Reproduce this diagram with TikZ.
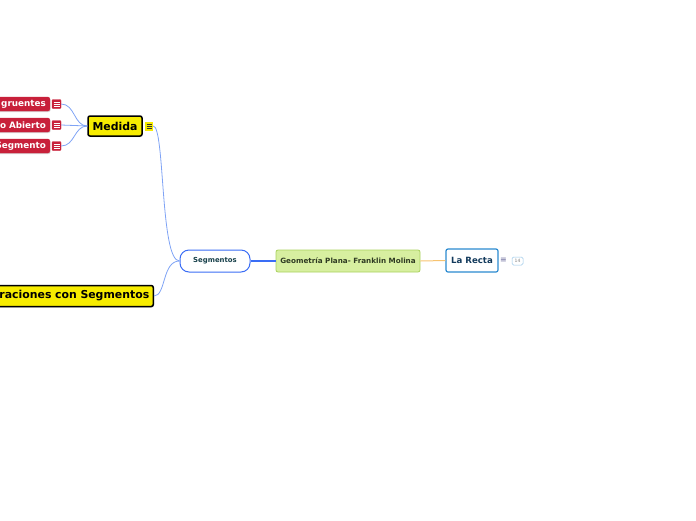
\documentclass[tikz,border=0pt]{standalone}
\usepackage{fontspec}
\setmainfont{DejaVu Sans}
\usetikzlibrary{shadows}
\definecolor{redb}{HTML}{C8203A}
\definecolor{yel}{HTML}{F7EC00}
\definecolor{conn}{HTML}{7FA3F5}
\definecolor{segb}{HTML}{3A6DF5}
\definecolor{segt}{HTML}{17404A}
\definecolor{geof}{HTML}{D7EFA0}
\definecolor{geob}{HTML}{A9D15E}
\definecolor{geot}{HTML}{2E3A22}
\definecolor{recb}{HTML}{2A8AD0}
\definecolor{rect}{HTML}{133A5C}
\definecolor{orl}{HTML}{F7C370}
\begin{document}
\begin{tikzpicture}[x=1pt,y=-1pt,
  shad/.style={drop shadow={shadow xshift=0.8pt,shadow yshift=-1pt,opacity=0.3}},
  redbox/.style={draw=redb,fill=redb,rounded corners=2pt,text=white,font=\bfseries\fontsize{8.8}{10}\selectfont,
     minimum height=14pt,inner xsep=4pt,inner ysep=0pt,text width=70pt,align=right,anchor=east,shad},
  redicon/.style={draw=redb,fill=redb,rounded corners=1pt,minimum width=9pt,minimum height=9pt,inner sep=0pt},
  yelbox/.style={draw=black,line width=1.5pt,fill=yel,rounded corners=2pt,font=\bfseries\fontsize{10.9}{12}\selectfont,inner xsep=4pt,inner ysep=0pt,shad},
  conn/.style={draw=conn,line width=0.8pt}
]
\useasboundingbox (0,0) rectangle (696,520);
\clip (0,0) rectangle (696,520);
% red nodes
\node[redbox] (c1) at (50,104) {gruentes};
\node[redbox] (c2) at (50,125) {o Abierto};
\node[redbox] (c3) at (50,146) {Segmento};
\foreach \n/\y in {1/104,2/125,3/146}{
  \node[redicon] (i\n) at (56.5,\y) {};
  \draw[white,line width=0.6pt] (53.5,\y-2) -- (59.5,\y-2) (53.5,\y) -- (59.5,\y) (53.5,\y+2) -- (59.5,\y+2);
}
% Medida
\node[yelbox,minimum width=54pt,minimum height=20pt] (med) at (115,126) {Medida};
\node[fill=yel,minimum width=8pt,minimum height=9pt,inner sep=0pt] (mi) at (149,126) {};
\draw[black!80,line width=0.6pt] (146.5,124) -- (151.5,124) (146.5,126) -- (151.5,126) (146.5,128) -- (151.5,128);
% Operaciones
\node[yelbox,minimum height=21pt,text width=170pt,align=right,anchor=east] (ope) at (154,296) {raciones con Segmentos};
% Segmentos
\node[draw=segb,line width=1pt,fill=white,rounded corners=9pt,minimum width=70pt,minimum height=22pt,
  text=segt,font=\bfseries\fontsize{6.9}{8}\selectfont] (seg) at (215,261) {Segmentos};
% Geometria
\node[draw=geob,line width=0.8pt,fill=geof,rounded corners=2pt,minimum width=144pt,minimum height=22pt,
  text=geot,font=\bfseries\fontsize{7.2}{8}\selectfont] (geo) at (348,261) {Geometría Plana- Franklin Molina};
% La Recta
\node[draw=recb,line width=1.2pt,fill=white,rounded corners=2pt,minimum width=52pt,minimum height=23pt,
  text=rect,font=\bfseries\fontsize{8.6}{10}\selectfont] (rec) at (472,260.5) {La Recta};
\node[text=gray!80!blue,font=\fontsize{8}{9}\selectfont,inner sep=0pt] (ri) at (503.5,260.5) {≡};
\node[draw=recb!50,line width=0.5pt,rounded corners=1.5pt,minimum width=11pt,minimum height=8pt,inner sep=0pt,
  text=gray,font=\fontsize{4.5}{5}\selectfont] (cnt) at (517.5,261) {14};
% connectors
\draw[conn] (i1.east) .. controls (75,104) and (74,126) .. (med.west);
\draw[conn] (i2.east) -- (med.west);
\draw[conn] (i3.east) .. controls (75,146) and (74,126) .. (med.west);
\draw[conn] (mi.east) .. controls (165,126) and (160,261) .. (seg.west);
\draw[conn] (ope.east) .. controls (166,296) and (162,261) .. (seg.west);
\draw[draw=segb,line width=1.2pt] (seg.east) -- (geo.west);
\draw[draw=orl,line width=1pt] (geo.east) -- (rec.west);
\end{tikzpicture}
\end{document}
